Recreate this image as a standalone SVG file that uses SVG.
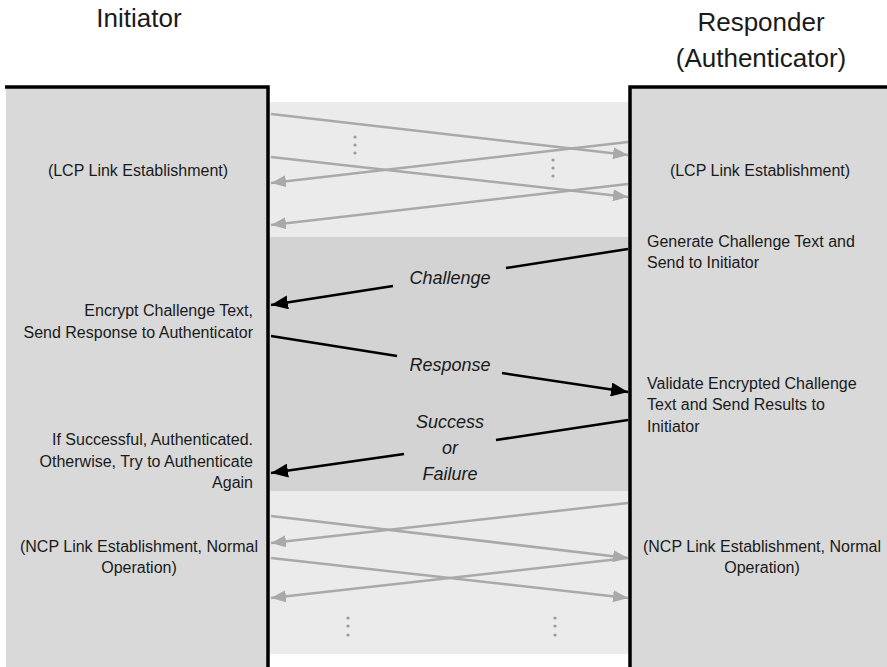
<svg xmlns="http://www.w3.org/2000/svg" width="887" height="667" viewBox="0 0 887 667">
<style>
.t{font-family:"Liberation Sans",Arial,sans-serif;font-size:16px;fill:#1a1a1a}
.h{font-family:"Liberation Sans",Arial,sans-serif;font-size:26px;fill:#1a1a1a}
.i{font-family:"Liberation Sans",Arial,sans-serif;font-size:18px;font-style:italic;fill:#1a1a1a}
.g{stroke:#a9a9a9;stroke-width:2.5;fill:none}
.b{stroke:#000;stroke-width:2.5;fill:none}
.dot{fill:#9a9a9a}
</style>
<defs>
<marker id="ag" markerUnits="userSpaceOnUse" markerWidth="16" markerHeight="12" refX="15" refY="6" orient="auto">
<path d="M0,0 L15,6 L0,12 z" fill="#a9a9a9"/>
</marker>
<marker id="ab" markerUnits="userSpaceOnUse" markerWidth="18" markerHeight="14" refX="17" refY="7" orient="auto">
<path d="M0,0 L17,7 L0,14 z" fill="#000"/>
</marker>
</defs>
<rect width="887" height="667" fill="#fff"/>
<g id="bands">
<rect x="268" y="102" width="362" height="135" fill="#ebebeb"/>
<rect x="268" y="237" width="362" height="254" fill="#d3d3d3"/>
<rect x="268" y="491" width="362" height="163" fill="#ebebeb"/>
</g>
<g id="initiator">
<text class="h" x="139" y="27" text-anchor="middle">Initiator</text>
<rect x="6" y="87" width="262" height="580" fill="#d9d9d9"/>
<path d="M5,87 H268 V667" stroke="#000" stroke-width="3.5" fill="none"/>
<text class="t" x="138" y="176" text-anchor="middle">(LCP Link Establishment)</text>
<text class="t" x="253" y="316" text-anchor="end">Encrypt Challenge Text,</text>
<text class="t" x="253" y="338" text-anchor="end">Send Response to Authenticator</text>
<text class="t" x="253" y="445" text-anchor="end">If Successful, Authenticated.</text>
<text class="t" x="253" y="467" text-anchor="end">Otherwise, Try to Authenticate</text>
<text class="t" x="253" y="488" text-anchor="end">Again</text>
<text class="t" x="139" y="552" text-anchor="middle">(NCP Link Establishment, Normal</text>
<text class="t" x="139" y="573" text-anchor="middle">Operation)</text>
</g>
<g id="responder">
<text class="h" x="761" y="31" text-anchor="middle">Responder</text>
<text class="h" x="761" y="67" text-anchor="middle">(Authenticator)</text>
<rect x="630" y="87" width="257" height="580" fill="#d9d9d9"/>
<path d="M630,667 V87 H887" stroke="#000" stroke-width="3.5" fill="none"/>
<text class="t" x="760" y="176" text-anchor="middle">(LCP Link Establishment)</text>
<text class="t" x="647" y="247">Generate Challenge Text and</text>
<text class="t" x="647" y="268">Send to Initiator</text>
<text class="t" x="647" y="389">Validate Encrypted Challenge</text>
<text class="t" x="647" y="410">Text and Send Results to</text>
<text class="t" x="647" y="432">Initiator</text>
<text class="t" x="762" y="552" text-anchor="middle">(NCP Link Establishment, Normal</text>
<text class="t" x="762" y="573" text-anchor="middle">Operation)</text>
</g>
<g id="connectors">
<line class="g" x1="271" y1="114" x2="628" y2="155" marker-end="url(#ag)"/>
<line class="g" x1="628" y1="142" x2="271" y2="183" marker-end="url(#ag)"/>
<line class="g" x1="271" y1="157" x2="628" y2="197" marker-end="url(#ag)"/>
<line class="g" x1="628" y1="184" x2="271" y2="225" marker-end="url(#ag)"/>
<line class="g" x1="628" y1="503" x2="271" y2="543" marker-end="url(#ag)"/>
<line class="g" x1="271" y1="516" x2="628" y2="558" marker-end="url(#ag)"/>
<line class="g" x1="271" y1="558" x2="628" y2="598" marker-end="url(#ag)"/>
<line class="g" x1="628" y1="558" x2="271" y2="598" marker-end="url(#ag)"/>
<circle class="dot" cx="355" cy="137" r="1.6"/>
<circle class="dot" cx="355" cy="145" r="1.6"/>
<circle class="dot" cx="355" cy="153" r="1.6"/>
<circle class="dot" cx="553" cy="160" r="1.6"/>
<circle class="dot" cx="553" cy="168" r="1.6"/>
<circle class="dot" cx="553" cy="176" r="1.6"/>
<circle class="dot" cx="348" cy="618" r="1.6"/>
<circle class="dot" cx="348" cy="626" r="1.6"/>
<circle class="dot" cx="348" cy="635" r="1.6"/>
<circle class="dot" cx="555" cy="618" r="1.6"/>
<circle class="dot" cx="555" cy="626" r="1.6"/>
<circle class="dot" cx="555" cy="635" r="1.6"/>
<line class="b" x1="628" y1="249" x2="506" y2="268"/>
<line class="b" x1="393" y1="286" x2="271" y2="305" marker-end="url(#ab)"/>
<text class="i" x="450" y="284" text-anchor="middle">Challenge</text>
<line class="b" x1="271" y1="336" x2="397" y2="356"/>
<line class="b" x1="502" y1="373" x2="628" y2="392" marker-end="url(#ab)"/>
<text class="i" x="450" y="371" text-anchor="middle">Response</text>
<line class="b" x1="628" y1="420" x2="496" y2="440"/>
<line class="b" x1="404" y1="454" x2="271" y2="473" marker-end="url(#ab)"/>
<text class="i" x="450" y="428" text-anchor="middle">Success</text>
<text class="i" x="450" y="454" text-anchor="middle">or</text>
<text class="i" x="450" y="480" text-anchor="middle">Failure</text>
</g>
</svg>
